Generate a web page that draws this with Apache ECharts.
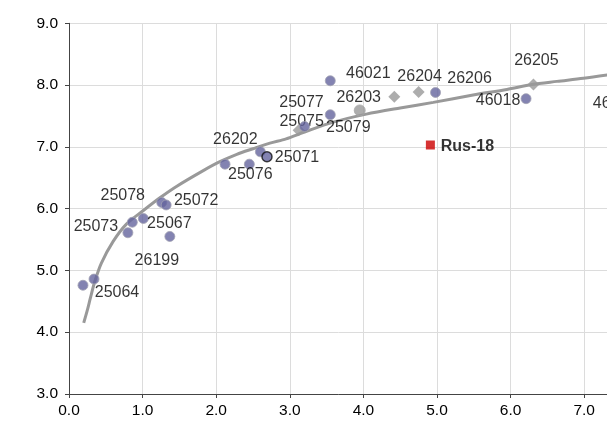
<!DOCTYPE html>
<html>
<head>
<meta charset="utf-8">
<script src="https://cdn.jsdelivr.net/npm/echarts@6/dist/echarts.min.js"></script>
<style>
  html, body { margin: 0; padding: 0; background: #ffffff; }
  #chart { width: 607px; height: 438px; }
</style>
</head>
<body>
<div id="chart"></div>
<script>
// Axis ticks
const xTicks = [0, 1, 2, 3, 4, 5, 6, 7, 8];
const yTicks = [3, 4, 5, 6, 7, 8, 9];

// Blue samples
const blueNames = ['', '25064', '25073', '', '25067', '26199', '25078', '25072',
  '', '25076', '26202', '25077', '25079', '46021', '26206', '46018', '46022'];
const blueX = [0.19, 0.34, 0.80, 0.86, 1.01, 1.37, 1.26, 1.32,
  2.12, 2.45, 2.60, 3.20, 3.55, 3.55, 4.98, 6.21, 7.80];
const blueY = [4.76, 4.86, 5.61, 5.78, 5.84, 5.55, 6.10, 6.06,
  6.72, 6.72, 6.92, 7.33, 7.52, 8.07, 7.88, 7.78, 7.74];

// Grey circle sample
const greyNames = ['26203'];
const greyX = [3.95];
const greyY = [7.59];

// Grey diamond samples
const diamondNames = ['25075', '', '26204', '26205'];
const diamondX = [3.12, 4.42, 4.75, 6.31];
const diamondY = [7.27, 7.81, 7.89, 8.01];

// Outlined sample
const outlineNames = ['25071'];
const outlineX = [2.69];
const outlineY = [6.84];

// Reference sample
const refNames = ['Rus-18'];
const refX = [4.91];
const refY = [7.03];

// Trend curve
const curveX = [0.20, 0.25, 0.29, 0.35, 0.44, 0.60, 0.78, 1.01, 1.24, 1.46, 1.83, 2.05,
  2.28, 2.50, 2.73, 2.95, 3.20, 3.59, 4.04, 4.50, 4.95, 5.49, 5.95, 6.29, 6.63, 6.99, 7.35];
const curveY = [4.15, 4.36, 4.55, 4.82, 5.12, 5.47, 5.75, 5.97, 6.18, 6.36, 6.62, 6.76,
  6.88, 6.97, 7.06, 7.13, 7.24, 7.40, 7.53, 7.63, 7.72, 7.84, 7.93, 8.01, 8.06, 8.11, 8.17];

// Label offsets (label centre relative to marker centre, px)
const blueLabelOffsets = [[0, 0], [23, 14], [-32, -6], [0, 0], [26, 5], [-13, 24], [-39, -7], [30, -4],
  [0, 0], [1, 10], [-25, -12], [-3, -24], [18, 13], [38, -7], [34, -14], [-28, 2], [-28, 2]];
const greyLabelOffsets = [[-1, -13]];
const diamondLabelOffsets = [[3, -9], [0, 0], [1, -15], [3, -24]];
const outlineLabelOffsets = [[30, 1]];
const refLabelOffsets = [[37, 2]];

const FONT = "'Liberation Sans', Arial, sans-serif";

function points(names, xs, ys, offsets) {
  return xs.map((x, i) => ({
    value: [x, ys[i]],
    name: names[i],
    label: { show: names[i] !== '', offset: offsets[i] }
  }));
}

const baseLabel = {
  position: 'inside',
  align: 'center',
  verticalAlign: 'middle',
  color: '#000',
  fontFamily: FONT,
  fontSize: 16,
  formatter: p => p.name
};

const chart = echarts.init(document.getElementById('chart'), null, { renderer: 'canvas' });

chart.setOption({
  animation: false,
  backgroundColor: '#ffffff',
  grid: { left: 69, top: 23.3, width: 588.8, height: 370.7, containLabel: false,
    outerBoundsMode: 'none' },
  xAxis: {
    type: 'value', min: xTicks[0], max: xTicks[xTicks.length - 1], interval: 1,
    axisLine: { show: true, onZero: false, lineStyle: { color: '#444', width: 1 } },
    axisTick: { show: true, length: 4, lineStyle: { color: '#444' } },
    axisLabel: { color: '#000', fontFamily: FONT, fontSize: 15.5, margin: 9,
      formatter: v => v.toFixed(1) },
    splitLine: { show: true, lineStyle: { color: '#dcdcdc', width: 1 } }
  },
  yAxis: {
    type: 'value', min: yTicks[0], max: yTicks[yTicks.length - 1], interval: 1,
    axisLine: { show: true, onZero: false, lineStyle: { color: '#444', width: 1 } },
    axisTick: { show: true, length: 4, lineStyle: { color: '#444' } },
    axisLabel: { color: '#000', fontFamily: FONT, fontSize: 15.5, margin: 11,
      formatter: v => v.toFixed(1) },
    splitLine: { show: true, lineStyle: { color: '#dcdcdc', width: 1 } }
  },
  series: [
    {
      type: 'line',
      data: curveX.map((x, i) => [x, curveY[i]]),
      showSymbol: false,
      smooth: 0.3,
      lineStyle: { color: '#999999', width: 3 },
      z: 2
    },
    {
      type: 'scatter',
      data: points(greyNames, greyX, greyY, greyLabelOffsets),
      symbol: 'circle', symbolSize: 11,
      itemStyle: { color: '#999999', borderColor: '#a8a8a8', borderWidth: 1 },
      label: baseLabel, z: 3
    },
    {
      type: 'scatter',
      data: points(diamondNames, diamondX, diamondY, diamondLabelOffsets),
      symbol: 'diamond', symbolSize: 12,
      itemStyle: { color: '#999999' },
      label: baseLabel, z: 3
    },
    {
      type: 'scatter',
      data: points(blueNames, blueX, blueY, blueLabelOffsets),
      symbol: 'circle', symbolSize: 10,
      itemStyle: { color: '#64649e', borderColor: '#a3a3b3', borderWidth: 1 },
      label: baseLabel, z: 4
    },
    {
      type: 'scatter',
      data: points(outlineNames, outlineX, outlineY, outlineLabelOffsets),
      symbol: 'circle', symbolSize: 10,
      itemStyle: { color: '#64649e', borderColor: '#111', borderWidth: 1.5 },
      label: baseLabel, z: 5
    },
    {
      type: 'scatter',
      data: points(refNames, refX, refY, refLabelOffsets),
      symbol: 'rect', symbolSize: 9,
      itemStyle: { color: '#cc0000' },
      label: Object.assign({}, baseLabel, { fontWeight: 'bold' }), z: 5
    }
  ]
});
</script>
</body>
</html>
